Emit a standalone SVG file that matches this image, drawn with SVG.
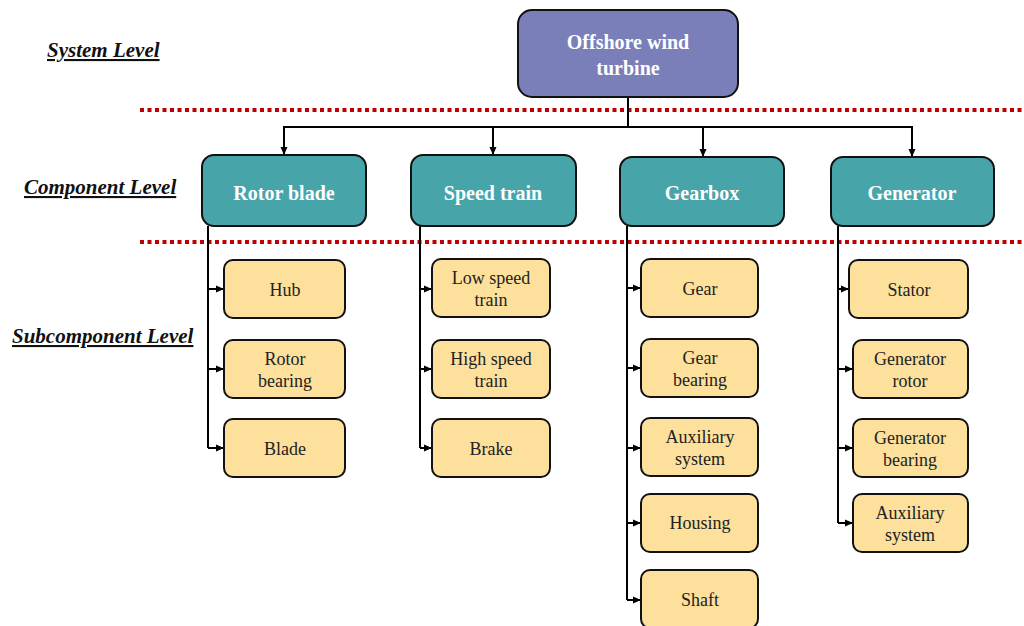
<svg xmlns="http://www.w3.org/2000/svg" width="1024" height="626" viewBox="0 0 1024 626">
<style>
.sys{fill:#7a7fba;stroke:#111;stroke-width:2}
.comp{fill:#47a4a9;stroke:#111;stroke-width:2}
.sub{fill:#fde09b;stroke:#111;stroke-width:2}
.tw{font-family:"Liberation Serif","Times New Roman",serif;font-weight:bold;font-size:20px;fill:#fff;text-anchor:middle}
.ts{font-family:"Liberation Serif","Times New Roman",serif;font-size:18px;fill:#222;text-anchor:middle}
.lvl{font-family:"Liberation Serif","Times New Roman",serif;font-weight:bold;font-style:italic;font-size:21px;fill:#111;text-decoration:underline}
.dot{stroke:#c00000;stroke-width:4;stroke-dasharray:4 3.5;fill:none}
.ln{stroke:#000;stroke-width:2;fill:none}
</style>
<defs>
<marker id="ah" markerWidth="8" markerHeight="8" refX="7" refY="4" orient="auto" markerUnits="userSpaceOnUse">
<path d="M0,0.5 L8,4 L0,7.5 Z" fill="#000"/>
</marker>
</defs>
<g id="levels">
<text class="lvl" x="47" y="57">System Level</text>
<text class="lvl" x="24" y="194">Component Level</text>
<text class="lvl" x="12" y="343">Subcomponent Level</text>
<line class="dot" x1="140" y1="110" x2="1024" y2="110"/>
<line class="dot" x1="140" y1="242" x2="1024" y2="242"/>
</g>
<g id="connectors">
<path class="ln" d="M628,97 V127 M284,127 H912"/>
<line class="ln" x1="284" y1="126" x2="284" y2="154" marker-end="url(#ah)"/>
<line class="ln" x1="493" y1="126" x2="493" y2="154" marker-end="url(#ah)"/>
<line class="ln" x1="703" y1="126" x2="703" y2="156" marker-end="url(#ah)"/>
<line class="ln" x1="912" y1="126" x2="912" y2="156" marker-end="url(#ah)"/>
<path class="ln" d="M208,226 V448"/>
<path class="ln" d="M208,289 H223" marker-end="url(#ah)"/>
<path class="ln" d="M208,369 H223" marker-end="url(#ah)"/>
<path class="ln" d="M208,448 H223" marker-end="url(#ah)"/>
<path class="ln" d="M420,226 V448"/>
<path class="ln" d="M420,289 H431" marker-end="url(#ah)"/>
<path class="ln" d="M420,369 H431" marker-end="url(#ah)"/>
<path class="ln" d="M420,448 H431" marker-end="url(#ah)"/>
<path class="ln" d="M627,226 V600"/>
<path class="ln" d="M627,288 H640" marker-end="url(#ah)"/>
<path class="ln" d="M627,368 H640" marker-end="url(#ah)"/>
<path class="ln" d="M627,448 H640" marker-end="url(#ah)"/>
<path class="ln" d="M627,523 H640" marker-end="url(#ah)"/>
<path class="ln" d="M627,600 H640" marker-end="url(#ah)"/>
<path class="ln" d="M838,226 V523"/>
<path class="ln" d="M838,289 H848" marker-end="url(#ah)"/>
<path class="ln" d="M838,369 H852" marker-end="url(#ah)"/>
<path class="ln" d="M838,448 H852" marker-end="url(#ah)"/>
<path class="ln" d="M838,523 H852" marker-end="url(#ah)"/>
</g>
<g id="n-turbine"><rect class="sys" x="518" y="10" width="220" height="87" rx="14"/><text class="tw" x="628" y="49">Offshore wind</text><text class="tw" x="628" y="75">turbine</text></g>
<g id="n-rotorblade"><rect class="comp" x="202" y="155" width="164" height="71" rx="12"/><text class="tw" x="284" y="200">Rotor blade</text></g>
<g id="n-speedtrain"><rect class="comp" x="411" y="155" width="165" height="71" rx="12"/><text class="tw" x="493" y="200">Speed train</text></g>
<g id="n-gearbox"><rect class="comp" x="620" y="157" width="164" height="69" rx="12"/><text class="tw" x="702" y="200">Gearbox</text></g>
<g id="n-generator"><rect class="comp" x="831" y="157" width="163" height="69" rx="12"/><text class="tw" x="912" y="200">Generator</text></g>
<g id="n-hub"><rect class="sub" x="224" y="260" width="121" height="58" rx="9"/><text class="ts" x="285" y="296">Hub</text></g>
<g id="n-rotorbearing"><rect class="sub" x="224" y="340" width="121" height="58" rx="9"/><text class="ts" x="285" y="365">Rotor</text><text class="ts" x="285" y="387">bearing</text></g>
<g id="n-blade"><rect class="sub" x="224" y="419" width="121" height="58" rx="9"/><text class="ts" x="285" y="455">Blade</text></g>
<g id="n-lowspeed"><rect class="sub" x="432" y="259" width="118" height="58" rx="9"/><text class="ts" x="491" y="284">Low speed</text><text class="ts" x="491" y="306">train</text></g>
<g id="n-highspeed"><rect class="sub" x="432" y="340" width="118" height="58" rx="9"/><text class="ts" x="491" y="365">High speed</text><text class="ts" x="491" y="387">train</text></g>
<g id="n-brake"><rect class="sub" x="432" y="419" width="118" height="58" rx="9"/><text class="ts" x="491" y="455">Brake</text></g>
<g id="n-gear"><rect class="sub" x="641" y="259" width="117" height="58" rx="9"/><text class="ts" x="700" y="295">Gear</text></g>
<g id="n-gearbearing"><rect class="sub" x="641" y="339" width="117" height="58" rx="9"/><text class="ts" x="700" y="364">Gear</text><text class="ts" x="700" y="386">bearing</text></g>
<g id="n-gbaux"><rect class="sub" x="641" y="418" width="117" height="58" rx="9"/><text class="ts" x="700" y="443">Auxiliary</text><text class="ts" x="700" y="465">system</text></g>
<g id="n-housing"><rect class="sub" x="641" y="494" width="117" height="58" rx="9"/><text class="ts" x="700" y="529">Housing</text></g>
<g id="n-shaft"><rect class="sub" x="641" y="570" width="117" height="58" rx="9"/><text class="ts" x="700" y="606">Shaft</text></g>
<g id="n-stator"><rect class="sub" x="849" y="260" width="119" height="58" rx="9"/><text class="ts" x="909" y="296">Stator</text></g>
<g id="n-genrotor"><rect class="sub" x="853" y="340" width="115" height="58" rx="9"/><text class="ts" x="910" y="365">Generator</text><text class="ts" x="910" y="387">rotor</text></g>
<g id="n-genbearing"><rect class="sub" x="853" y="419" width="115" height="58" rx="9"/><text class="ts" x="910" y="444">Generator</text><text class="ts" x="910" y="466">bearing</text></g>
<g id="n-genaux"><rect class="sub" x="853" y="494" width="115" height="58" rx="9"/><text class="ts" x="910" y="519">Auxiliary</text><text class="ts" x="910" y="541">system</text></g>
</svg>
